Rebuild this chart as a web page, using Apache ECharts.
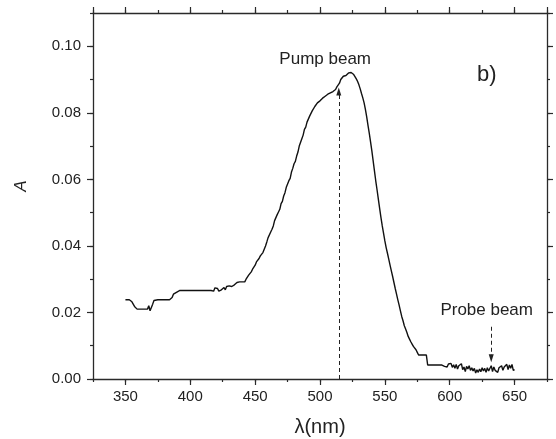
<!DOCTYPE html>
<html>
<head>
<meta charset="utf-8">
<script src="https://cdn.jsdelivr.net/npm/echarts@6/dist/echarts.min.js"></script>
<style>
html,body{margin:0;padding:0;background:#fff;}
#chart{width:556px;height:439px;}
</style>
</head>
<body>
<div id="chart"></div>
<script>
// Wavelength (nm)
const wavelength = [
350,353,355,357,359,362,365,367,368,369,370,371,372,375,380,384,386,387,388,390,
392,395,400,405,410,416,417,418,419,420,421,422,424,426,427,428,429,430,431,432,
434,436,438,440,442,443,444,445,446,447,448,449,450,451,452,453,454,455,456,457,
458,459,460,461,462,463,464,465,466,467,468,469,470,471,472,473,474,475,476,477,
478,479,480,481,482,483,484,485,486,487,488,489,490,491,492,493,494,495,496,497,
498,499,500,501,502,503,504,505,506,507,508,509,510,511,512,513,514,515,516,517,
518,519,520,521,522,523,524,525,526,527,528,529,530,531,532,533,534,535,536,537,
538,539,540,541,542,543,544,545,546,547,548,549,550,551,552,553,554,555,556,557,
558,559,560,561,562,563,564,565,566,567,568,569,570,571,572,573,574,575,576,577,
578,580,582,583,590,594,595,596,597,598,599,600,601,602,603,604,605,606,607,608,
609,610,611,612,613,614,615,616,617,618,619,620,621,622,623,624,625,626,627,628,
629,630,631,632,633,634,635,636,637,638,639,640,641,642,643,644,645,646,647,648,
649,650
];
// Absorbance A
const absorbance = [
0.0238,0.0238,0.0232,0.0218,0.0210,0.0210,0.0210,0.0210,0.0220,0.0205,0.0215,0.0225,0.0236,0.0238,0.0238,0.0238,0.0245,0.0255,0.0250,0.0262,
0.0266,0.0266,0.0266,0.0266,0.0266,0.0266,0.0272,0.0264,0.0274,0.0268,0.0272,0.0264,0.0268,0.0275,0.0268,0.0278,0.0272,0.0280,0.0274,0.0278,
0.0283,0.0290,0.0292,0.0292,0.0292,0.0300,0.0306,0.0312,0.0318,0.0322,0.0330,0.0336,0.0342,0.0352,0.0358,0.0362,0.0370,0.0376,0.0380,0.0390,
0.0400,0.0412,0.0425,0.0430,0.0442,0.0450,0.0460,0.0476,0.0482,0.0494,0.0502,0.0510,0.0527,0.0534,0.0550,0.0560,0.0576,0.0582,0.0596,0.0603,
0.0622,0.0633,0.0647,0.0654,0.0670,0.0682,0.0700,0.0706,0.0722,0.0733,0.0750,0.0757,0.0772,0.0778,0.0790,0.0794,0.0806,0.0808,0.0819,0.0820,
0.0830,0.0829,0.0836,0.0836,0.0844,0.0843,0.0850,0.0849,0.0856,0.0852,0.0860,0.0858,0.0864,0.0862,0.0870,0.0878,0.0874,0.0889,0.0900,0.0906,
0.0910,0.0914,0.0912,0.0916,0.0920,0.0917,0.0921,0.0917,0.0915,0.0910,0.0902,0.0894,0.0884,0.0872,0.0858,0.0845,0.0830,0.0810,0.0788,0.0762,
0.0738,0.0712,0.0685,0.0655,0.0625,0.0595,0.0568,0.0540,0.0512,0.0485,0.0460,0.0438,0.0415,0.0395,0.0378,0.0360,0.0342,0.0325,0.0308,0.0290,
0.0272,0.0255,0.0238,0.0222,0.0205,0.0188,0.0175,0.0160,0.0150,0.0140,0.0128,0.0120,0.0112,0.0105,0.0098,0.0094,0.0088,0.0080,0.0072,0.0072,
0.0072,0.0072,0.0072,0.0042,0.0042,0.0042,0.0046,0.0038,0.0044,0.0036,0.0045,0.0040,0.0047,0.0035,0.0043,0.0032,0.0044,0.0030,0.0040,0.0034,
0.0046,0.0028,0.0036,0.0022,0.0038,0.0030,0.0040,0.0026,0.0034,0.0024,0.0032,0.0018,0.0028,0.0020,0.0030,0.0022,0.0034,0.0024,0.0032,0.0020,
0.0034,0.0024,0.0030,0.0040,0.0022,0.0036,0.0026,0.0032,0.0020,0.0034,0.0028,0.0040,0.0026,0.0036,0.0030,0.0044,0.0028,0.0042,0.0032,0.0044,
0.0026,0.0028
];

// Annotation arrows (dashed): wavelength, start A, end A
const arrowWavelengths = [514.5, 632];
const arrowStart = [0, 0.0157];
const arrowEnd = [0.0864, 0.0062];

// Text annotations: text, wavelength, A
const noteTexts = ['Pump beam', 'b)', 'Probe beam'];
const noteWavelengths = [504, 628.5, 628.5];
const noteValues = [0.0962, 0.0914, 0.0205];
const noteSizes = [17, 22, 17];

// Axis settings
const xMin = 325, xMax = 675;
const yMin = 0, yMax = 0.11;

const font = 'Liberation Sans, Arial, sans-serif';
const axisColor = '#2a2a2a';
const textColor = '#222';

const chart = echarts.init(document.getElementById('chart'), null, {renderer: 'canvas'});

const seriesData = wavelength.map((w, i) => [w, absorbance[i]]);

function majorX(pos, labels) {
  return {
    type: 'value', position: pos, min: xMin, max: xMax, splitNumber: 7,
    axisLine: {show: true, onZero: false, lineStyle: {color: axisColor, width: 1.3}},
    axisTick: {show: true, inside: false, length: 6, lineStyle: {color: axisColor, width: 1.2}},
    axisLabel: {show: labels, showMinLabel: false, showMaxLabel: false, margin: 10,
      fontFamily: font, fontSize: 15, color: textColor},
    splitLine: {show: false},
    name: labels ? 'λ(nm)' : '',
    nameLocation: 'middle', nameGap: 38,
    nameTextStyle: {fontFamily: font, fontSize: 20, color: textColor}
  };
}
function minorX(pos) {
  return {
    type: 'value', position: pos, min: xMin, max: xMax, interval: 25,
    axisLine: {show: false, onZero: false},
    axisTick: {show: true, inside: false, length: 3, lineStyle: {color: axisColor, width: 1.2}},
    axisLabel: {show: false}, splitLine: {show: false}
  };
}
function majorY(pos, labels) {
  return {
    type: 'value', position: pos, min: yMin, max: yMax, interval: 0.02,
    axisLine: {show: true, onZero: false, lineStyle: {color: axisColor, width: 1.3}},
    axisTick: {show: true, inside: false, length: 6, lineStyle: {color: axisColor, width: 1.2}},
    axisLabel: {show: labels, showMaxLabel: false, margin: 12,
      formatter: v => v.toFixed(2),
      fontFamily: font, fontSize: 15, color: textColor},
    splitLine: {show: false},
    name: labels ? 'A' : '',
    nameLocation: 'middle', nameGap: 63,
    nameTextStyle: {fontFamily: font, fontSize: 17, fontStyle: 'italic', color: textColor, padding: [0, 0, 0, 20]}
  };
}
function minorY(pos) {
  return {
    type: 'value', position: pos, min: yMin, max: yMax, interval: 0.01,
    axisLine: {show: false, onZero: false},
    axisTick: {show: true, inside: false, length: 3, lineStyle: {color: axisColor, width: 1.2}},
    axisLabel: {show: false}, splitLine: {show: false}
  };
}

const arrowLines = arrowWavelengths.map((w, i) => [
  {coord: [w, arrowStart[i]], symbol: 'none'},
  {coord: [w, arrowEnd[i]], symbol: 'triangle', symbolSize: [5, 8]}
]);

const notes = noteTexts.map((t, i) => ({
  name: t,
  coord: [noteWavelengths[i], noteValues[i]],
  label: {fontSize: noteSizes[i]}
}));

chart.setOption({
  animation: false,
  backgroundColor: '#fff',
  grid: {left: 93, right: 9, top: 13, bottom: 60, containLabel: false, outerBoundsMode: 'none'},
  xAxis: [majorX('bottom', true), minorX('bottom'), majorX('top', false), minorX('top')],
  yAxis: [majorY('left', true), minorY('left'), majorY('right', false), minorY('right')],
  series: [{
    type: 'line',
    xAxisIndex: 0, yAxisIndex: 0,
    data: seriesData,
    showSymbol: false,
    symbol: 'none',
    lineStyle: {color: '#111', width: 1.4},
    silent: true,
    markLine: {
      silent: true,
      symbol: ['none', 'triangle'],
      label: {show: false},
      lineStyle: {color: '#222', width: 1, type: [4, 3]},
      emphasis: {disabled: true},
      data: arrowLines
    },
    markPoint: {
      silent: true,
      symbol: 'circle',
      symbolSize: 0,
      label: {show: true, position: 'inside', formatter: p => p.name,
        fontFamily: font, color: textColor},
      data: notes
    }
  }]
});
</script>
</body>
</html>
